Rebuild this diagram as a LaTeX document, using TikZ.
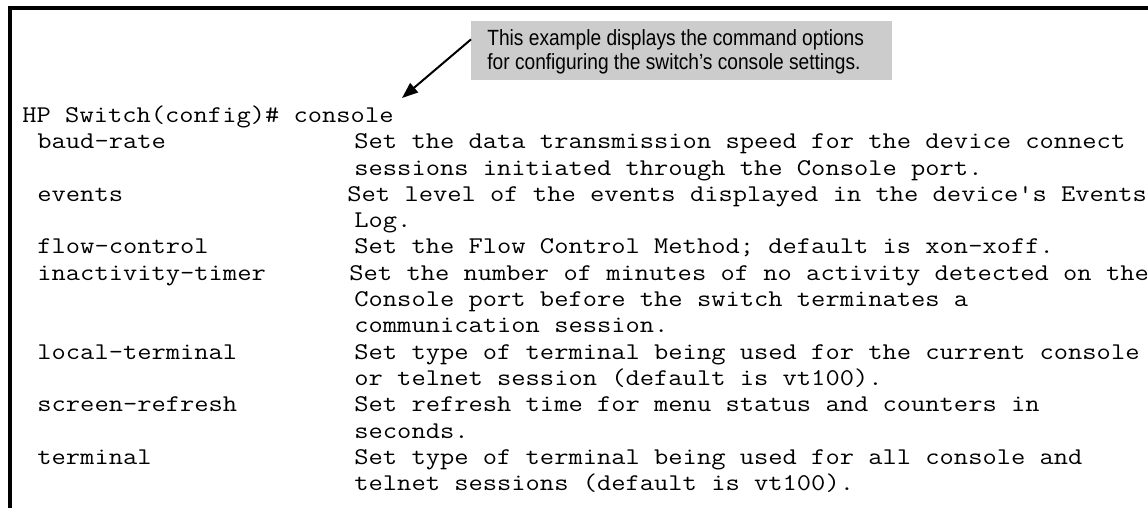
\documentclass[tikz,border=0pt]{standalone}
\usepackage{fontspec}
\usetikzlibrary{arrows.meta}
\newfontfamily\monofnt[FakeStretch=1.155]{Latin Modern Mono}
\newfontfamily\notefnt[FakeStretch=0.87]{Liberation Sans}
\definecolor{calloutgray}{RGB}{204,204,204}
\tikzset{
  mono/.style={anchor=base west, inner sep=0pt, font=\monofnt\fontsize{12}{13}\selectfont},
  notetext/.style={anchor=base west, inner sep=0pt, font=\notefnt\fontsize{11}{12}\selectfont},
  calloutbox/.style={anchor=north west, fill=calloutgray, inner sep=0pt, minimum width=210.5pt, minimum height=29.5pt},
  frameline/.style={line width=1.6pt},
  pointer/.style={line width=1pt, -{Triangle[length=8pt,width=6pt]}}
}
\begin{document}
\begin{tikzpicture}[x=0.5pt,y=-0.5pt]
\useasboundingbox (0,0) rectangle (1148,508);
% frame
\coordinate (fbl) at (10,508);
\coordinate (ftl) at (10,8);
\coordinate (ftr) at (1148,8);
\draw[frameline] (fbl) -- (ftl) -- (ftr);
% callout
\node[calloutbox] (callout) at (471,21) {};
\node[notetext] (note1) at (487,46) {This example displays the command options};
\node[notetext] (note2) at (487,70) {for configuring the switch’s console settings.};
\coordinate (tip) at (402,98);
\draw[pointer] ([yshift=5.75pt]callout.west) -- (tip);
% command output
\node[mono] (l0) at (22,122.5) {HP Switch(config)\# console};
\node[mono] (o1) at (37,148.8) {baud-rate};
\node[mono] (d1) at (354,148.8) {Set the data transmission speed for the device connect};
\node[mono] (d2) at (354,175.1) {sessions initiated through the Console port.};
\node[mono] (o3) at (37,201.4) {events};
\node[mono] (d3) at (347,201.4) {Set level of the events displayed in the device's Events};
\node[mono] (d4) at (354,227.7) {Log.};
\node[mono] (o5) at (37,254.0) {flow-control};
\node[mono] (d5) at (354,254.0) {Set the Flow Control Method; default is xon-xoff.};
\node[mono] (o6) at (37,280.3) {inactivity-timer};
\node[mono] (d6) at (349,280.3) {Set the number of minutes of no activity detected on the};
\node[mono] (d7) at (354,306.6) {Console port before the switch terminates a};
\node[mono] (d8) at (354,332.9) {communication session.};
\node[mono] (o9) at (37,359.2) {local-terminal};
\node[mono] (d9) at (354,359.2) {Set type of terminal being used for the current console};
\node[mono] (d10) at (354,385.5) {or telnet session (default is vt100).};
\node[mono] (o11) at (37,411.8) {screen-refresh};
\node[mono] (d11) at (354,411.8) {Set refresh time for menu status and counters in};
\node[mono] (d12) at (354,438.1) {seconds.};
\node[mono] (o13) at (37,464.4) {terminal};
\node[mono] (d13) at (354,464.4) {Set type of terminal being used for all console and};
\node[mono] (d14) at (354,490.7) {telnet sessions (default is vt100).};
\end{tikzpicture}
\end{document}
